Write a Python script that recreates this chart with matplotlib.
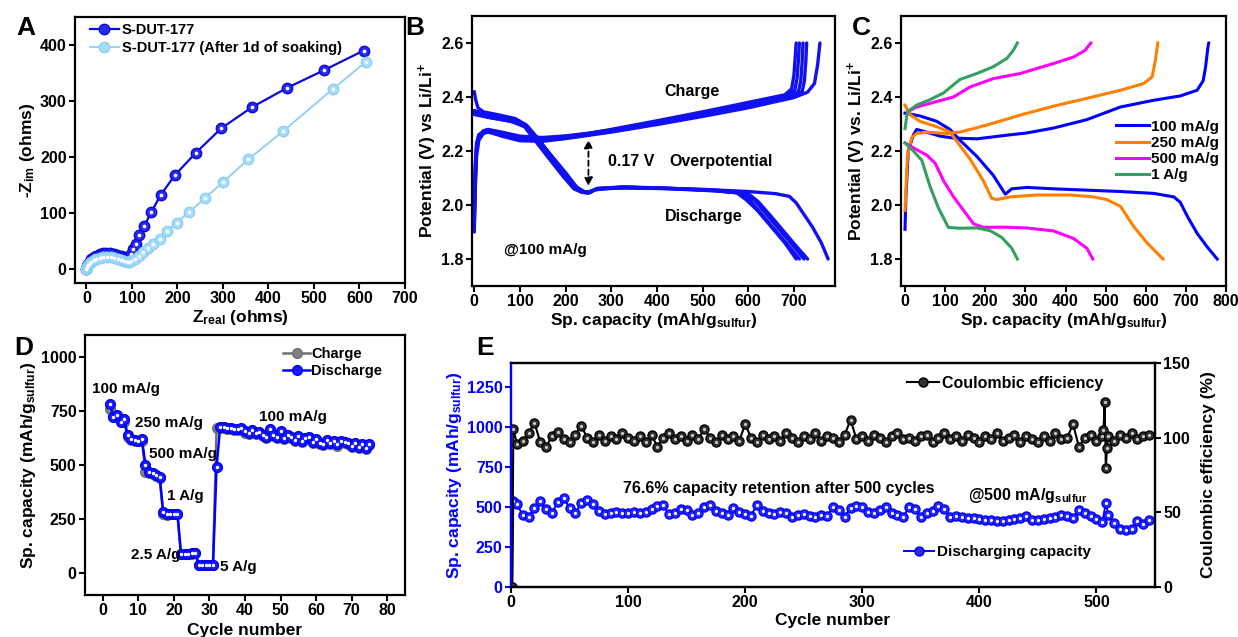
import matplotlib
matplotlib.use('Agg')
import matplotlib.pyplot as plt

plt.rcParams['font.family'] = ['Liberation Sans', 'DejaVu Sans']
plt.rcParams['font.weight'] = 'bold'
plt.rcParams['axes.labelweight'] = 'bold'
plt.rcParams['mathtext.fontset'] = 'custom'
plt.rcParams['mathtext.rm'] = 'Liberation Sans:bold'
plt.rcParams['mathtext.bf'] = 'Liberation Sans:bold'
plt.rcParams['mathtext.default'] = 'bf'

# ---------------- A: EIS ----------------
a_fresh_x = [0, 2, 4, 7, 11, 16, 22, 29, 36, 44, 52, 60, 68, 75, 82, 88, 93, 98, 102, 108, 116, 127, 143, 163, 195, 241, 296, 364, 440, 522, 609]
a_fresh_y = [0, 5, 9, 13, 17, 21, 24, 26, 28, 28.5, 28, 27, 25, 23, 21, 20, 22, 27, 35, 45, 60, 77, 102, 132, 168, 208, 251, 289, 323, 355, 390]
a_soak_x = [0, 2, 4, 7, 11, 16, 22, 29, 37, 45, 53, 61, 69, 76, 83, 89, 94, 99, 106, 115, 124, 135, 146, 161, 177, 198, 225, 260, 301, 356, 432, 541, 614]
a_soak_y = [0, 4, 7, 10, 13, 16, 18, 20, 21, 21.5, 21, 20, 18, 16, 14, 13, 13, 14, 18, 23, 30, 37, 45, 54, 68, 83, 101, 126, 156, 196, 246, 321, 370]

# ---------------- B: charge/discharge at 100 mA/g ----------------
b_chg = [
    ([0, 2, 5, 10, 20, 30, 60, 100, 150, 200, 250, 300, 400, 500, 600, 680, 695, 700, 703, 705],
     [1.90, 2.05, 2.18, 2.24, 2.265, 2.27, 2.258, 2.245, 2.243, 2.252, 2.265, 2.280, 2.312, 2.345, 2.380, 2.408, 2.43, 2.48, 2.55, 2.60]),
    ([0, 2, 5, 10, 20, 30, 60, 100, 150, 200, 250, 300, 400, 500, 600, 685, 702, 707, 710, 712],
     [1.92, 2.08, 2.20, 2.25, 2.272, 2.278, 2.265, 2.25, 2.245, 2.253, 2.264, 2.277, 2.308, 2.340, 2.374, 2.405, 2.425, 2.47, 2.54, 2.60]),
    ([0, 2, 5, 10, 20, 30, 60, 100, 150, 200, 250, 300, 400, 500, 600, 690, 710, 715, 718, 720],
     [1.95, 2.10, 2.21, 2.255, 2.275, 2.28, 2.27, 2.255, 2.25, 2.256, 2.266, 2.278, 2.306, 2.337, 2.370, 2.400, 2.42, 2.46, 2.53, 2.60]),
    ([0, 2, 5, 10, 20, 30, 60, 100, 150, 200, 250, 300, 400, 500, 600, 700, 718, 723, 726, 728],
     [1.97, 2.12, 2.22, 2.26, 2.272, 2.275, 2.262, 2.24, 2.238, 2.248, 2.26, 2.274, 2.304, 2.335, 2.366, 2.402, 2.42, 2.46, 2.53, 2.60]),
    ([0, 2, 5, 10, 20, 30, 60, 100, 150, 200, 250, 300, 400, 500, 600, 700, 730, 745, 752, 757],
     [2.00, 2.15, 2.23, 2.26, 2.27, 2.272, 2.255, 2.238, 2.236, 2.246, 2.258, 2.27, 2.298, 2.328, 2.36, 2.398, 2.418, 2.45, 2.52, 2.60]),
]
b_dis = [
    ([0, 3, 8, 20, 50, 90, 115, 135, 165, 200, 222, 238, 252, 268, 320, 420, 520, 575, 595, 620, 650, 680, 705],
     [2.42, 2.39, 2.36, 2.345, 2.335, 2.32, 2.295, 2.255, 2.19, 2.115, 2.065, 2.048, 2.045, 2.06, 2.066, 2.062, 2.055, 2.045, 2.02, 1.98, 1.92, 1.86, 1.80]),
    ([0, 30, 80, 110, 132, 165, 200, 222, 240, 255, 270, 330, 430, 530, 585, 605, 630, 660, 690, 712],
     [2.35, 2.335, 2.32, 2.30, 2.26, 2.19, 2.115, 2.068, 2.05, 2.048, 2.062, 2.067, 2.062, 2.054, 2.044, 2.015, 1.965, 1.905, 1.845, 1.80]),
    ([0, 30, 80, 110, 130, 162, 198, 220, 238, 252, 268, 330, 430, 530, 595, 615, 640, 670, 700, 722],
     [2.345, 2.33, 2.315, 2.295, 2.255, 2.185, 2.11, 2.065, 2.05, 2.046, 2.06, 2.066, 2.061, 2.053, 2.043, 2.015, 1.965, 1.905, 1.845, 1.80]),
    ([0, 30, 80, 110, 128, 160, 195, 218, 235, 250, 265, 330, 430, 530, 600, 622, 648, 678, 708, 730],
     [2.34, 2.325, 2.31, 2.29, 2.25, 2.18, 2.105, 2.06, 2.047, 2.044, 2.058, 2.064, 2.06, 2.052, 2.042, 2.012, 1.962, 1.902, 1.842, 1.80]),
    ([0, 30, 80, 110, 130, 160, 200, 225, 245, 260, 300, 400, 500, 600, 660, 690, 705, 720, 740, 760, 775],
     [2.335, 2.325, 2.31, 2.295, 2.26, 2.20, 2.12, 2.065, 2.045, 2.055, 2.063, 2.062, 2.058, 2.05, 2.042, 2.032, 2.008, 1.97, 1.92, 1.86, 1.80]),
]

# ---------------- C: rate profiles ----------------
c_rates = ['100 mA/g', '250 mA/g', '500 mA/g', '1 A/g']
c_colors = ['#0000FF', '#FF8000', '#FF00FF', '#33A060']
c_dis_x = [
    [0, 37, 79, 112, 137, 179, 220, 250, 266, 304, 370, 453, 537, 620, 670, 686, 703, 728, 753, 778],
    [0, 12, 37, 79, 112, 137, 162, 195, 216, 229, 262, 329, 412, 470, 503, 537, 570, 603, 643],
    [0, 29, 54, 75, 96, 121, 146, 171, 196, 245, 304, 370, 420, 453, 468],
    [0, 21, 42, 62, 83, 108, 137, 179, 212, 241, 266, 280],
]
c_dis_y = [
    [2.34, 2.33, 2.31, 2.28, 2.24, 2.18, 2.11, 2.04, 2.06, 2.065, 2.06, 2.055, 2.05, 2.043, 2.03, 2.01, 1.96, 1.895, 1.845, 1.80],
    [2.37, 2.335, 2.31, 2.29, 2.27, 2.22, 2.17, 2.09, 2.025, 2.02, 2.03, 2.037, 2.037, 2.03, 2.02, 1.995, 1.92, 1.86, 1.80],
    [2.23, 2.205, 2.185, 2.155, 2.09, 2.03, 1.98, 1.93, 1.917, 1.918, 1.915, 1.904, 1.876, 1.84, 1.80],
    [2.23, 2.20, 2.165, 2.07, 1.99, 1.917, 1.914, 1.915, 1.905, 1.88, 1.84, 1.80],
]
c_chg_x = [
    [0, 2, 8, 21, 29, 54, 87, 121, 179, 245, 304, 370, 453, 537, 620, 686, 728, 743, 749, 755, 757],
    [0, 6, 17, 29, 54, 104, 137, 204, 287, 370, 453, 537, 595, 616, 624, 630],
    [6, 29, 71, 121, 162, 220, 287, 370, 420, 449, 463],
    [0, 6, 29, 62, 96, 137, 179, 220, 254, 270, 280],
]
c_chg_y = [
    [1.91, 2.02, 2.20, 2.26, 2.28, 2.27, 2.255, 2.248, 2.245, 2.257, 2.267, 2.285, 2.316, 2.363, 2.388, 2.404, 2.425, 2.46, 2.51, 2.585, 2.60],
    [1.98, 2.18, 2.25, 2.265, 2.27, 2.265, 2.27, 2.296, 2.333, 2.366, 2.395, 2.425, 2.45, 2.475, 2.535, 2.60],
    [2.345, 2.363, 2.38, 2.40, 2.437, 2.468, 2.487, 2.524, 2.548, 2.573, 2.60],
    [2.283, 2.345, 2.37, 2.39, 2.415, 2.465, 2.487, 2.512, 2.543, 2.573, 2.60],
]

# ---------------- D: rate capability ----------------
d_cycles = list(range(2, 76))
d_discharge = [780, 720, 730, 700, 712,
               640, 622, 615, 613, 620,
               500, 470, 465, 455, 445,
               282, 275, 275, 276, 275,
               90, 90, 90, 92, 95,
               40, 40, 40, 40, 40,
               490,
               675, 675, 673, 670, 668, 665, 672, 655, 650, 662, 648, 652, 640, 630, 665,
               640, 628, 655, 625, 640, 630, 615, 635, 612, 625, 628, 605, 620, 600, 598,
               615, 600, 610, 595, 612, 605, 600, 588, 602, 585, 595, 580, 598]
d_charge = [760, 728, 722, 708, 700,
            628, 615, 610, 610, 612,
            470, 462, 458, 450, 440,
            272, 270, 272, 272, 272,
            88, 88, 88, 90, 92,
            38, 38, 38, 38, 39,
            670,
            670, 670, 668, 666, 663, 660, 666, 650, 645, 656, 643, 648, 636, 626, 658,
            636, 623, 650, 620, 635, 625, 611, 630, 607, 620, 623, 600, 615, 596, 593,
            610, 595, 605, 590, 607, 600, 595, 584, 597, 580, 590, 576, 594]
d_labels = [('100 mA/g', -3, 850), ('250 mA/g', 9, 692), ('500 mA/g', 13, 549), ('1 A/g', 18, 355),
            ('2.5 A/g', 8, 85), ('5 A/g', 33, 28), ('100 mA/g', 44, 723)]

# ---------------- E: long cycling at 500 mA/g ----------------
e_cap_cycles = [1, 2] + list(range(5, 506, 5)) + [508, 510, 515, 520, 525, 530, 535, 540, 545]
e_capacity = [0, 540,
              520, 448, 438, 492, 535, 488, 465, 530, 555, 495,
              462, 525, 545, 520, 475, 455, 462, 468, 465, 462,
              470, 465, 470, 485, 505, 510, 455, 465, 490, 480,
              448, 460, 500, 510, 478, 462, 450, 495, 470, 455,
              445, 515, 478, 462, 455, 468, 460, 435, 450, 455,
              445, 435, 452, 445, 500, 480, 440, 495, 505, 498,
              470, 462, 480, 500, 465, 450, 440, 500, 485, 435,
              462, 478, 505, 490, 440, 442, 435, 432, 430, 425,
              420, 418, 410, 415, 418, 422, 430, 442, 420, 418,
              425, 430, 440, 452, 445, 430, 480, 465, 445, 425,
              405,
              525, 450, 400, 360, 355, 360, 410, 395, 420]
e_ce_cycles = [1, 2] + list(range(5, 501, 5)) + [505, 506, 507, 508, 509, 510, 515, 520, 525, 530, 535, 540, 545]
e_ce = [0, 106,
        96, 98, 103, 110, 97, 94, 101, 104, 99, 97,
        102, 108, 100, 97, 102, 98, 101, 99, 103, 100,
        98, 101, 97, 102, 94, 100, 103, 99, 101, 98,
        102, 99, 106, 100, 97, 102, 99, 101, 98, 109,
        100, 97, 102, 99, 101, 98, 103, 100, 97, 101,
        99, 103, 98, 101, 100, 97, 102, 112, 99, 101,
        98, 102, 100, 97, 101, 103, 99, 100, 98, 101,
        102, 97, 100, 103, 99, 101, 98, 102, 100, 97,
        101, 99, 103, 98, 100, 102, 97, 101, 99, 97,
        101, 98, 103, 99, 100, 109, 94, 100, 102, 98,
        101, 105, 124, 80, 93, 101, 98, 102, 100, 103, 99, 101, 102]

# ---------------- figure ----------------
W, H = 1238, 637
fig = plt.figure(figsize=(W / 100, H / 100), dpi=100)

TICK = 11.5
LAB = 12.5


def rect(l, t, r, b):
    return [l / W, 1 - b / H, (r - l) / W, (b - t) / H]


def style(ax):
    for s in ax.spines.values():
        s.set_linewidth(1.6)
    ax.tick_params(direction='out', length=4, width=1.5, labelsize=TICK, pad=2)
    ax.tick_params(top=False, right=False)


def balls(ax, x, y, color, face, size, lw=1.5, label=None, highlight='white'):
    ax.plot(x, y, '-', color=color, lw=lw, marker='o', ms=size, mfc=face, mec=color, mew=1.0, label=label)
    ax.plot(x, y, 'none', marker='o', ms=size * 0.35, mfc=highlight, mec='none')


# A
axA = fig.add_axes(rect(75, 17, 405, 283))
style(axA)
balls(axA, a_fresh_x, a_fresh_y, '#0A0AD8', '#2B2BEE', 7.5, lw=1.6, label='S-DUT-177')
balls(axA, a_soak_x, a_soak_y, '#8CCFF5', '#A8DDFA', 7.5, lw=1.3, label='S-DUT-177 (After 1d of soaking)')
axA.set_xlim(-25, 700)
axA.set_ylim(-25, 450)
axA.set_xticks(range(0, 701, 100))
axA.set_yticks(range(0, 401, 100))
axA.set_xlabel(r'Z$_{real}$ (ohms)', fontsize=LAB, labelpad=1)
axA.set_ylabel(r'-Z$_{im}$ (ohms)', fontsize=LAB, labelpad=2)
axA.legend(loc='center left', bbox_to_anchor=(0.045, 0.917), frameon=False, fontsize=10.5,
           borderpad=0, borderaxespad=0, handlelength=2.0, handletextpad=0.2, labelspacing=0.25)

# B
axB = fig.add_axes(rect(472, 16, 835, 286))
style(axB)
for x, y in b_chg + b_dis:
    axB.plot(x, y, color='#1010F0', lw=2.4, solid_capstyle='round')
axB.set_xlim(-5, 790)
axB.set_ylim(1.7, 2.7)
axB.set_xticks(range(0, 701, 100))
axB.set_yticks([1.8, 2.0, 2.2, 2.4, 2.6])
axB.set_yticklabels(['1.8', '2.0', '2.2', '2.4', '2.6'])
axB.set_xlabel(r'Sp. capacity (mAh/g$_{sulfur}$)', fontsize=LAB, labelpad=1)
axB.set_ylabel(r'Potential (V) vs Li/Li$^{+}$', fontsize=LAB, labelpad=2)
axB.text(417, 2.42, 'Charge', fontsize=11.5, va='center')
axB.text(293, 2.16, '0.17 V', fontsize=11.5, va='center')
axB.text(428, 2.16, 'Overpotential', fontsize=11.5, va='center')
axB.text(417, 1.958, 'Discharge', fontsize=11.5, va='center')
axB.text(64, 1.835, '@100 mA/g', fontsize=11, va='center')
axB.annotate('', xy=(250, 2.252), xytext=(250, 2.06),
             arrowprops=dict(arrowstyle='<|-|>', linestyle=(0, (3, 2)), color='black', lw=1.3, mutation_scale=12))

# C
axC = fig.add_axes(rect(901, 16, 1226, 286))
style(axC)
for i in range(4):
    axC.plot(c_dis_x[i], c_dis_y[i], color=c_colors[i], lw=2.2, label=c_rates[i])
    axC.plot(c_chg_x[i], c_chg_y[i], color=c_colors[i], lw=2.2)
axC.set_xlim(-10, 800)
axC.set_ylim(1.7, 2.7)
axC.set_xticks(range(0, 801, 100))
axC.set_yticks([1.8, 2.0, 2.2, 2.4, 2.6])
axC.set_yticklabels(['1.8', '2.0', '2.2', '2.4', '2.6'])
axC.set_xlabel(r'Sp. capacity (mAh/g$_{sulfur}$)', fontsize=LAB, labelpad=1)
axC.set_ylabel(r'Potential (V) vs. Li/Li$^{+}$', fontsize=LAB, labelpad=2)
axC.legend(loc='center left', bbox_to_anchor=(0.66, 0.5), frameon=False, fontsize=11,
           borderpad=0, borderaxespad=0, handlelength=2.2, handletextpad=0.1, labelspacing=0.15)

# D
axD = fig.add_axes(rect(85, 335, 405, 595))
style(axD)
balls(axD, d_cycles, d_charge, '#707070', '#808080', 7, lw=1.8, label='Charge', highlight='#d0d0d0')
balls(axD, d_cycles, d_discharge, '#0000FF', '#1a1aff', 7, lw=1.8, label='Discharge')
axD.set_xlim(-5, 85)
axD.set_ylim(-100, 1100)
axD.set_xticks(range(0, 81, 10))
axD.set_yticks(range(0, 1001, 250))
axD.set_xlabel('Cycle number', fontsize=LAB, labelpad=3)
axD.set_ylabel(r'Sp. capacity (mAh/g$_{sulfur}$)', fontsize=LAB, labelpad=2)
for t, x, y in d_labels:
    axD.text(x, y, t, fontsize=11, va='center')
axD.legend(loc='center left', bbox_to_anchor=(0.62, 0.894), frameon=False, fontsize=10.5,
           borderpad=0, borderaxespad=0, handlelength=1.8, handletextpad=0.1, labelspacing=0.15)

# E
axE = fig.add_axes(rect(511, 363, 1155, 587))
style(axE)
axE2 = axE.twinx()
style(axE2)
axE2.tick_params(right=True, labelright=True)
balls(axE, e_cap_cycles, e_capacity, '#0000FF', '#2a2aff', 6.5, lw=1.4, label='Discharging capacity')
balls(axE2, e_ce_cycles, e_ce, '#000000', '#303030', 6.5, lw=1.5, label='Coulombic efficiency', highlight='#cccccc')
axE.set_xlim(0, 550)
axE.set_ylim(0, 1400)
axE2.set_ylim(0, 150)
axE.set_xticks(range(0, 501, 100))
axE.set_yticks(range(0, 1251, 250))
axE2.set_yticks(range(0, 151, 50))
axE.spines['left'].set_color('#0000FF')
axE2.spines['left'].set_color('#0000FF')
axE.tick_params(axis='y', colors='#0000FF')
axE.set_ylabel(r'Sp. capacity (mAh/g$_{sulfur}$)', fontsize=LAB, color='#0000FF', labelpad=2)
axE2.set_ylabel('Coulombic efficiency (%)', fontsize=LAB, labelpad=8)
axE.set_xlabel('Cycle number', fontsize=LAB, labelpad=2)
axE.text(96, 615, '76.6% capacity retention after 500 cycles', fontsize=11.5, va='center')
axE.text(390, 572, r'@500 mA/g$_{sulfur}$', fontsize=11.5, va='center')
axE.legend(loc='center left', bbox_to_anchor=(0.61, 0.156), frameon=False, fontsize=11,
           borderpad=0, borderaxespad=0, handlelength=2.0, handletextpad=0.2)
axE2.legend(loc='center left', bbox_to_anchor=(0.615, 0.91), frameon=False, fontsize=11.5,
            borderpad=0, borderaxespad=0, handlelength=2.0, handletextpad=0.2)

# panel letters
for letter, x, y in [('A', 16, 28), ('B', 405, 28), ('C', 852, 28), ('D', 14, 348), ('E', 476, 348)]:
    fig.text(x / W, 1 - y / H, letter, fontsize=19, fontweight='bold', va='center', ha='left')

fig.savefig('out.png', dpi=100)
